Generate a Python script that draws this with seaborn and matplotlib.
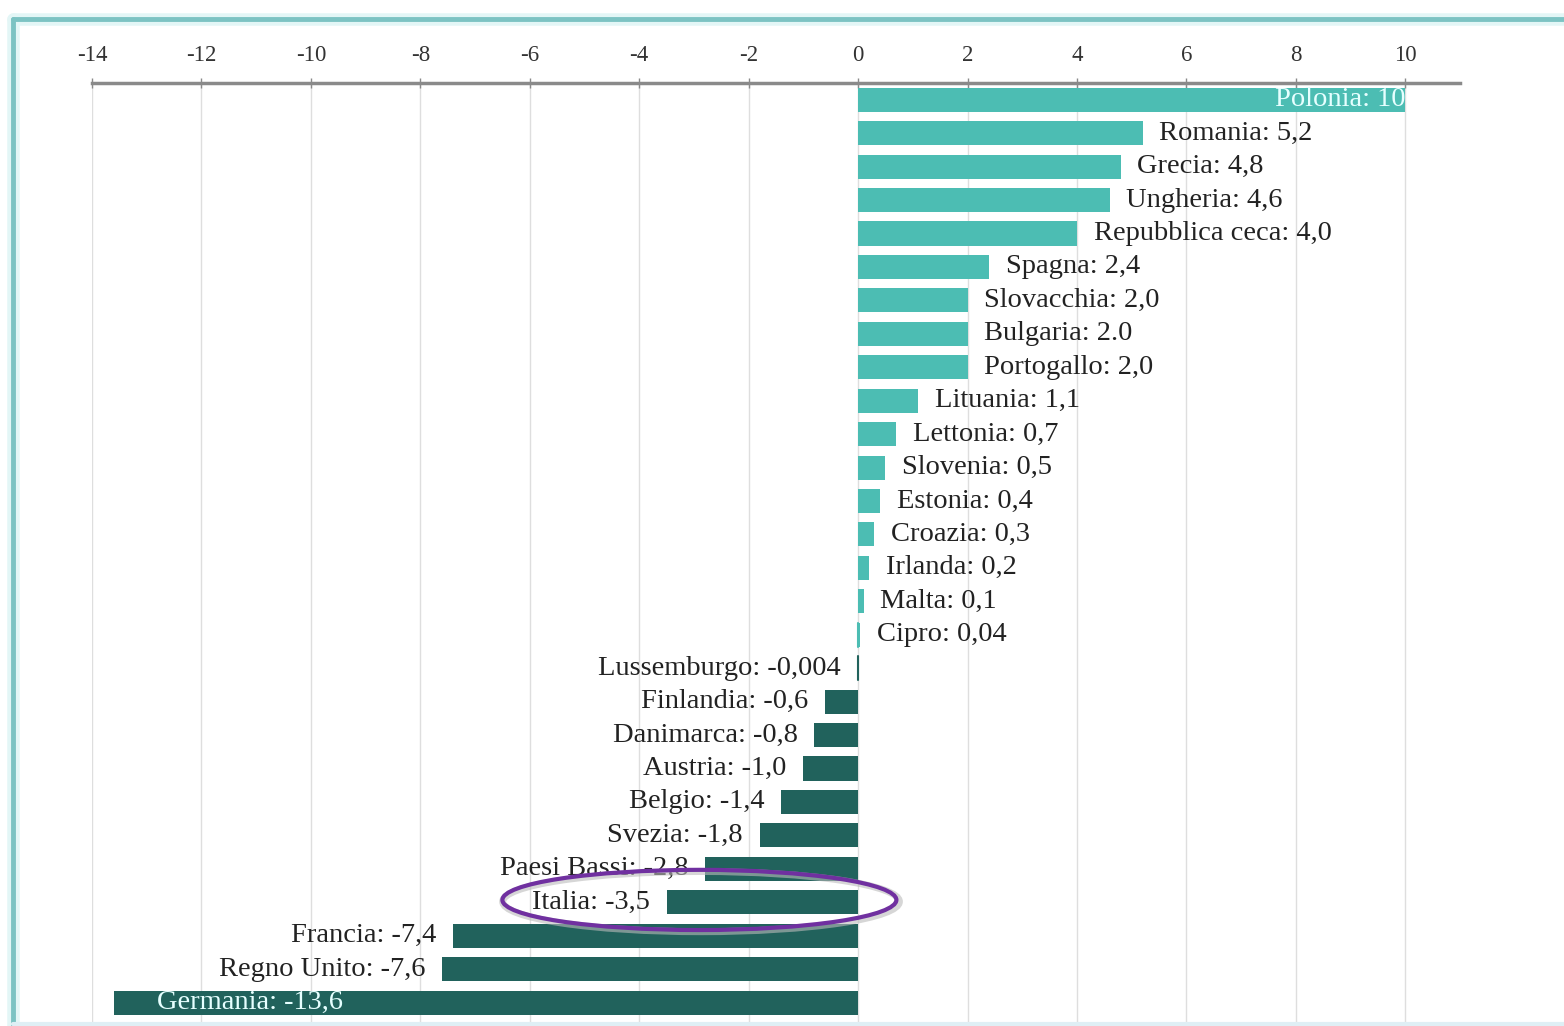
import numpy as np
import pandas as pd
import matplotlib
matplotlib.use("Agg")
import matplotlib.pyplot as plt
import seaborn as sns
from matplotlib.patches import Ellipse
from matplotlib.lines import Line2D

# Dati: variazione per paese (ordine dall'alto in basso)
paesi = ["Polonia", "Romania", "Grecia", "Ungheria", "Repubblica ceca", "Spagna",
         "Slovacchia", "Bulgaria", "Portogallo", "Lituania", "Lettonia", "Slovenia",
         "Estonia", "Croazia", "Irlanda", "Malta", "Cipro", "Lussemburgo",
         "Finlandia", "Danimarca", "Austria", "Belgio", "Svezia", "Paesi Bassi",
         "Italia", "Francia", "Regno Unito", "Germania"]
valori = [10, 5.2, 4.8, 4.6, 4.0, 2.4, 2.0, 2.0, 2.0, 1.1, 0.7, 0.5, 0.4, 0.3,
          0.2, 0.1, 0.04, -0.004, -0.6, -0.8, -1.0, -1.4, -1.8, -2.8, -3.5,
          -7.4, -7.6, -13.6]
etichette_valori = ["10", "5,2", "4,8", "4,6", "4,0", "2,4", "2,0", "2.0", "2,0",
                    "1,1", "0,7", "0,5", "0,4", "0,3", "0,2", "0,1", "0,04",
                    "-0,004", "-0,6", "-0,8", "-1,0", "-1,4", "-1,8", "-2,8",
                    "-3,5", "-7,4", "-7,6", "-13,6"]
tick_valori = list(range(-14, 11, 2))

df = pd.DataFrame({"paese": paesi, "valore": valori,
                   "segno": ["pos" if v >= 0 else "neg" for v in valori]})

col_pos = "#4CBDB3"
col_neg = "#21625C"

sns.set_theme(style="white")
plt.rcParams["font.family"] = ["Liberation Serif", "DejaVu Serif"]

fig = plt.figure(figsize=(15.64, 10.26), dpi=100)
ax = fig.add_axes([92 / 1564, 0, (1460 - 92) / 1564, 1 - 83 / 1026])

sns.barplot(data=df, x="valore", y="paese", hue="segno", orient="h",
            palette={"pos": col_pos, "neg": col_neg}, dodge=False, legend=False,
            width=0.72, saturation=1, ax=ax, edgecolor=None, linewidth=0, zorder=3)

# barrette sottili per valori quasi nulli
for i, v in enumerate(valori):
    if abs(v) < 0.05:
        ax.plot([0, 0], [i - 0.36, i + 0.36],
                color=col_pos if v >= 0 else col_neg, lw=1.5, zorder=3)

ax.set_xlim(-14, 11)
ax.set_ylim(27.7, -0.5)
ax.set_xticks(tick_valori)
ax.set_xticklabels([str(t) for t in tick_valori])
ax.xaxis.tick_top()
ax.tick_params(axis="x", top=True, bottom=False, direction="inout", length=7,
               width=1, color="#8a8a8a", labelsize=16.5, pad=9, labelcolor="#333333")
ax.set_yticks([])
ax.set_xlabel("")
ax.set_ylabel("")
for s in ["left", "right", "bottom"]:
    ax.spines[s].set_visible(False)
ax.spines["top"].set_color("#8a8a8a")
ax.spines["top"].set_linewidth(2.5)
ax.spines["top"].set_bounds(-14, 11)
for t in tick_valori:
    ax.axvline(t, color="#dedede", lw=1, zorder=0)

# etichette dei dati
fs = 20.5
for i, (p, v, lab) in enumerate(zip(paesi, valori, etichette_valori)):
    testo = f"{p}: {lab}"
    if p == "Polonia":
        ax.text(v, i, testo, ha="right", va="center", fontsize=fs,
                color="#E6FFFF", zorder=4)
    elif p == "Germania":
        ax.annotate(testo, xy=(v, i), xytext=(31, 0), textcoords="offset points",
                    ha="left", va="center", fontsize=fs, color="#E6FFFF", zorder=4)
    elif v >= 0:
        ax.annotate(testo, xy=(v, i), xytext=(12, 0), textcoords="offset points",
                    ha="left", va="center", fontsize=fs, color="#222222", zorder=4)
    else:
        ax.annotate(testo, xy=(v, i), xytext=(-12, 0), textcoords="offset points",
                    ha="right", va="center", fontsize=fs, color="#222222", zorder=4)

# ellisse di evidenziazione su Italia
i_ita = paesi.index("Italia")
ombra = Ellipse((-2.87, i_ita - 0.02), 7.25, 1.8, fill=False, edgecolor="#bbbbbb",
                lw=5, zorder=5, clip_on=False, alpha=0.6)
ax.add_patch(ombra)
ell = Ellipse((-2.9, i_ita - 0.07), 7.2, 1.8, fill=False, edgecolor="#7030A0",
              lw=3, zorder=6, clip_on=False)
ax.add_patch(ell)

# cornice dello screenshot
y_top = 1 - 19 / 1026
x_left = 13 / 1564
fig.add_artist(Line2D([x_left, 1], [y_top, y_top], color="#e3f6f6", lw=9,
                      transform=fig.transFigure))
fig.add_artist(Line2D([x_left, x_left], [0, y_top], color="#e3f6f6", lw=9,
                      transform=fig.transFigure))
fig.add_artist(Line2D([x_left, 1], [y_top, y_top], color="#7cc3c3", lw=3.5,
                      transform=fig.transFigure))
fig.add_artist(Line2D([x_left, x_left], [0, y_top], color="#7cc3c3", lw=3.5,
                      transform=fig.transFigure))
fig.add_artist(Line2D([x_left, 1], [2 / 1026, 2 / 1026], color="#dfeff5", lw=3,
                      transform=fig.transFigure))

fig.savefig("out.png", dpi=100)
